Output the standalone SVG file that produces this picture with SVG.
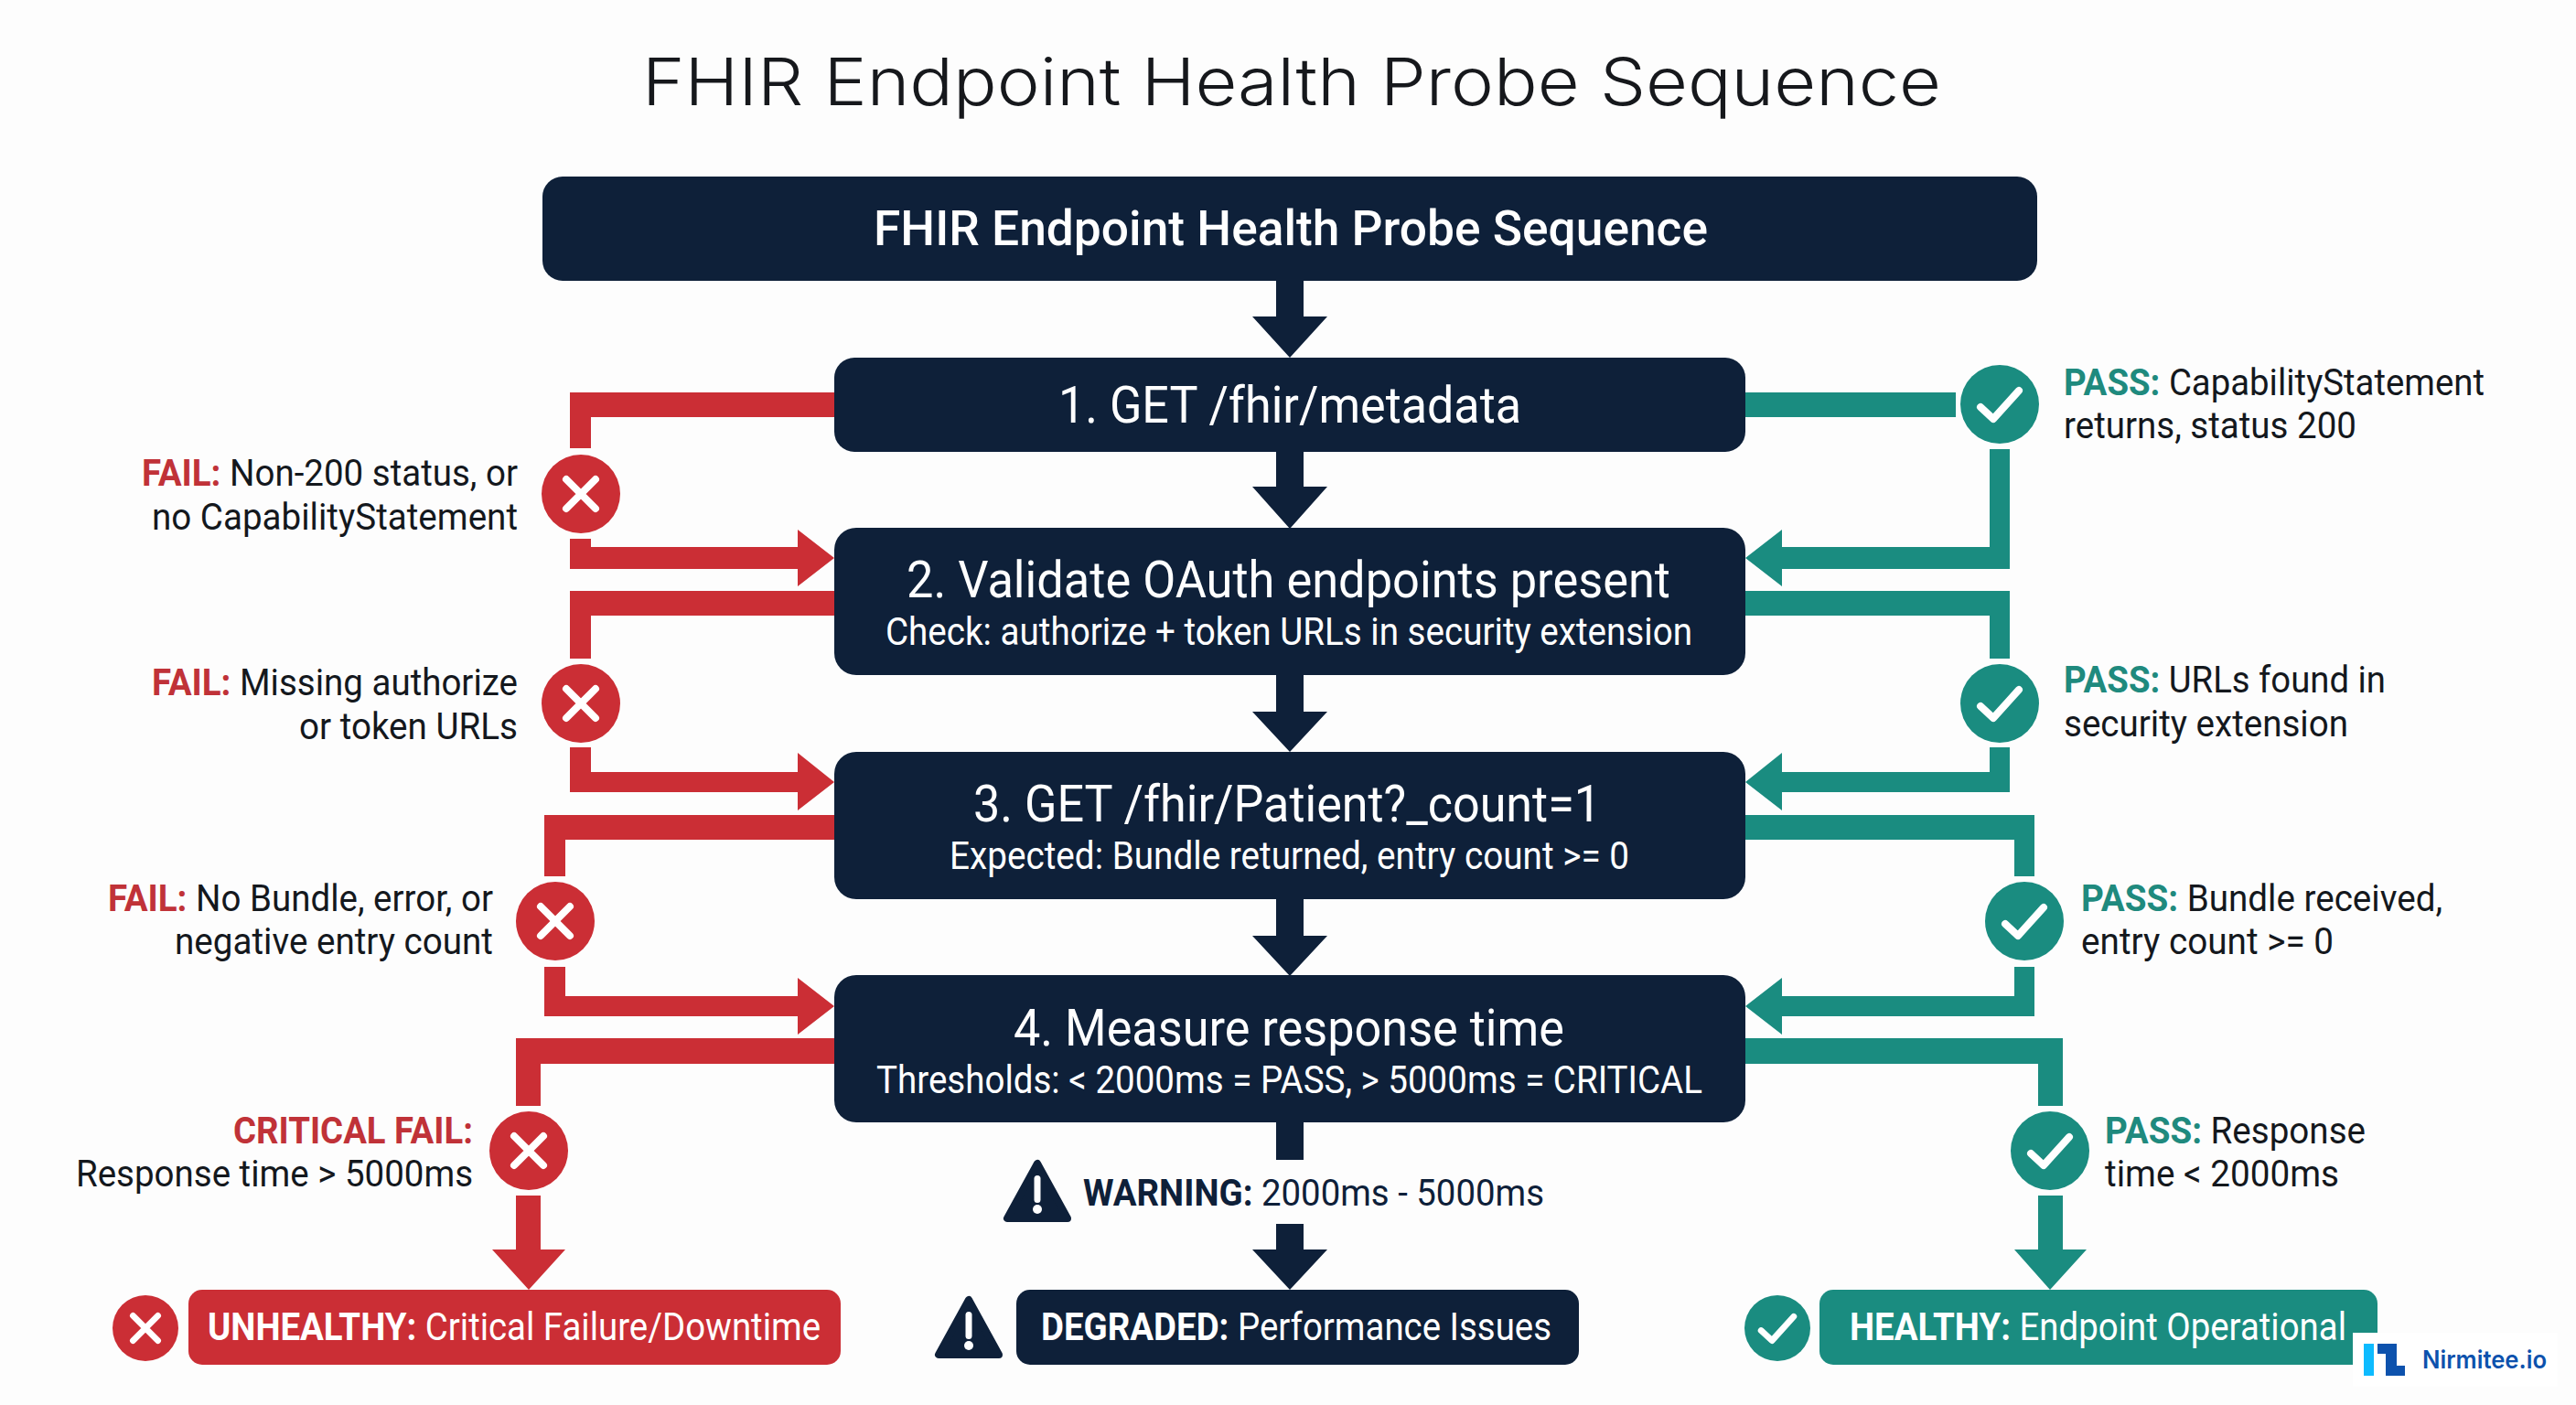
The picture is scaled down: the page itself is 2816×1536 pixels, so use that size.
<svg xmlns="http://www.w3.org/2000/svg" width="2816" height="1536" viewBox="0 0 2816 1536">
<style>
text{font-family:"Roboto","Liberation Sans",sans-serif;white-space:pre}
.title{font-family:"Inter","Open Sans",sans-serif;font-size:72px;font-weight:350;fill:#16181c}
.navy{fill:#0e2039}.red{fill:#cb2e35}.teal{fill:#1a8c80}
.h{font-size:55px;fill:#fff}.hm{font-size:54px;fill:#fff;font-weight:500}
.s{font-size:42px;fill:#fff}
.l{font-size:41px;fill:#14181d}
.fl{font-weight:700;fill:#c03238}.ps{font-weight:700;fill:#1f8a7e}
.b{font-size:42px;fill:#fff}.w{font-size:41px;fill:#0e2039}
.bd{font-weight:700}
.ic{fill:none;stroke:#fff;stroke-width:8;stroke-linecap:round;stroke-linejoin:round}
.tri{fill:#0e2039;stroke:#0e2039;stroke-width:8;stroke-linejoin:round}
</style>
<defs>
<g id="okMark"><path class="ic" d="M-21 3L-7 16L21 -15"/></g>
<g id="xMark"><path class="ic" d="M-16 -16L16 16M16 -16L-16 16"/></g>
<g id="warnTri">
<path class="tri" d="M0 -30L-33 30H33Z"/>
<rect x="-3.500" y="-17" width="7" height="30" rx="3.500" fill="#fff"/>
<circle cx="0" cy="20" r="5" fill="#fff"/>
</g>
</defs>
<rect width="2816" height="1536" fill="#fdfdfd"/>
<text class="title" x="702" y="115" textLength="1420" lengthAdjust="spacingAndGlyphs">FHIR Endpoint Health Probe Sequence</text>

<g id="connectors">
<g class="navy">
<path d="M1395 300H1425V346H1451L1410 391L1369 346H1395Z"/>
<path d="M1395 485H1425V532H1451L1410 578L1369 532H1395Z"/>
<path d="M1395 730H1425V778H1451L1410 822L1369 778H1395Z"/>
<path d="M1395 975H1425V1023H1451L1410 1067L1369 1023H1395Z"/>
<path d="M1395 1220H1425V1268H1395Z"/>
<path d="M1395 1338H1425V1366H1451L1410 1410L1369 1366H1395Z"/>
</g>
<g class="red">
<path d="M912 429H623V490H646V456H912Z"/>
<path d="M623 589V622H872V641L912 610L872 579V598H646V589Z"/>
<path d="M912 646H623V720H646V673H912Z"/>
<path d="M623 817V866H872V886L912 855L872 823V844H646V817Z"/>
<path d="M912 891H595V958H618V918H912Z"/>
<path d="M595 1057V1111H872V1131L912 1100L872 1069V1089H618V1057Z"/>
<path d="M912 1135H564V1209H591V1163H912Z"/>
<path d="M564 1307V1366H538L578 1410L618 1366H591V1307Z"/>
</g>
<g class="teal">
<path d="M1908 429H2138V456H1908Z"/>
<path d="M2197 491V622H1948V641L1908 610L1948 579V598H2175V491Z"/>
<path d="M1908 646H2197V720H2175V673H1908Z"/>
<path d="M2197 817V866H1948V886L1908 855L1948 823V844H2175V817Z"/>
<path d="M1908 891H2224V958H2202V918H1908Z"/>
<path d="M2224 1057V1111H1948V1131L1908 1100L1948 1069V1089H2202V1057Z"/>
<path d="M1908 1135H2255V1209H2228V1163H1908Z"/>
<path d="M2228 1307V1366H2202L2241 1410L2281 1366H2255V1307Z"/>
</g>
</g>

<g id="header"><rect class="navy" x="593" y="193" width="1634" height="114" rx="22"/>
<text class="hm" x="955" y="268" textLength="912" lengthAdjust="spacingAndGlyphs">FHIR Endpoint Health Probe Sequence</text></g>
<g id="step1"><rect class="navy" x="912" y="391" width="996" height="103" rx="22"/>
<text class="h" x="1157" y="462" textLength="506" lengthAdjust="spacingAndGlyphs">1. GET /fhir/metadata</text></g>
<g id="step2"><rect class="navy" x="912" y="577" width="996" height="161" rx="24"/>
<text class="h" x="991" y="653" textLength="835" lengthAdjust="spacingAndGlyphs">2. Validate OAuth endpoints present</text>
<text class="s" x="968" y="705" textLength="882" lengthAdjust="spacingAndGlyphs">Check: authorize + token URLs in security extension</text></g>
<g id="step3"><rect class="navy" x="912" y="822" width="996" height="161" rx="24"/>
<text class="h" x="1064" y="898" textLength="686" lengthAdjust="spacingAndGlyphs">3. GET /fhir/Patient?_count=1</text>
<text class="s" x="1038" y="950" textLength="743" lengthAdjust="spacingAndGlyphs">Expected: Bundle returned, entry count &gt;= 0</text></g>
<g id="step4"><rect class="navy" x="912" y="1066" width="996" height="161" rx="24"/>
<text class="h" x="1108" y="1143" textLength="602" lengthAdjust="spacingAndGlyphs">4. Measure response time</text>
<text class="s" x="958" y="1195" textLength="903" lengthAdjust="spacingAndGlyphs">Thresholds: &lt; 2000ms = PASS, &gt; 5000ms = CRITICAL</text></g>

<g id="fail1"><circle class="red" cx="635" cy="540" r="43"/><use href="#xMark" x="635" y="540"/>
<text class="l" x="155" y="531" textLength="411" lengthAdjust="spacingAndGlyphs"><tspan class="fl">FAIL:</tspan> Non-200 status, or</text>
<text class="l" x="166" y="579" textLength="400" lengthAdjust="spacingAndGlyphs">no CapabilityStatement</text></g>
<g id="fail2"><circle class="red" cx="635" cy="769" r="43"/><use href="#xMark" x="635" y="769"/>
<text class="l" x="166" y="760" textLength="400" lengthAdjust="spacingAndGlyphs"><tspan class="fl">FAIL:</tspan> Missing authorize</text>
<text class="l" x="327" y="808" textLength="239" lengthAdjust="spacingAndGlyphs">or token URLs</text></g>
<g id="fail3"><circle class="red" cx="607" cy="1007" r="43"/><use href="#xMark" x="607" y="1007"/>
<text class="l" x="118" y="996" textLength="421" lengthAdjust="spacingAndGlyphs"><tspan class="fl">FAIL:</tspan> No Bundle, error, or</text>
<text class="l" x="191" y="1043" textLength="348" lengthAdjust="spacingAndGlyphs">negative entry count</text></g>
<g id="fail4"><circle class="red" cx="578" cy="1258" r="43"/><use href="#xMark" x="578" y="1258"/>
<text class="l fl" x="255" y="1250" textLength="262" lengthAdjust="spacingAndGlyphs">CRITICAL FAIL:</text>
<text class="l" x="83" y="1297" textLength="434" lengthAdjust="spacingAndGlyphs">Response time &gt; 5000ms</text></g>

<g id="pass1"><circle class="teal" cx="2186" cy="442" r="43"/><use href="#okMark" x="2186" y="442"/>
<text class="l" x="2256" y="432" textLength="460" lengthAdjust="spacingAndGlyphs"><tspan class="ps">PASS:</tspan> CapabilityStatement</text>
<text class="l" x="2256" y="479" textLength="320" lengthAdjust="spacingAndGlyphs">returns, status 200</text></g>
<g id="pass2"><circle class="teal" cx="2186" cy="769" r="43"/><use href="#okMark" x="2186" y="769"/>
<text class="l" x="2256" y="757" textLength="352" lengthAdjust="spacingAndGlyphs"><tspan class="ps">PASS:</tspan> URLs found in</text>
<text class="l" x="2256" y="805" textLength="311" lengthAdjust="spacingAndGlyphs">security extension</text></g>
<g id="pass3"><circle class="teal" cx="2213" cy="1007" r="43"/><use href="#okMark" x="2213" y="1007"/>
<text class="l" x="2275" y="996" textLength="395" lengthAdjust="spacingAndGlyphs"><tspan class="ps">PASS:</tspan> Bundle received,</text>
<text class="l" x="2275" y="1043" textLength="276" lengthAdjust="spacingAndGlyphs">entry count &gt;= 0</text></g>
<g id="pass4"><circle class="teal" cx="2241" cy="1258" r="43"/><use href="#okMark" x="2241" y="1258"/>
<text class="l" x="2301" y="1250" textLength="285" lengthAdjust="spacingAndGlyphs"><tspan class="ps">PASS:</tspan> Response</text>
<text class="l" x="2301" y="1297" textLength="256" lengthAdjust="spacingAndGlyphs">time &lt; 2000ms</text></g>

<g id="warning"><use href="#warnTri" x="1134" y="1302"/>
<text class="w" x="1184" y="1318" textLength="504" lengthAdjust="spacingAndGlyphs"><tspan class="bd">WARNING:</tspan> 2000ms - 5000ms</text></g>

<g id="unhealthy"><circle class="red" cx="159" cy="1452" r="36"/><use href="#xMark" transform="translate(159 1452) scale(.85)"/>
<rect class="red" x="206" y="1410" width="713" height="82" rx="15"/>
<text class="b" x="227" y="1465" textLength="670" lengthAdjust="spacingAndGlyphs"><tspan class="bd">UNHEALTHY:</tspan> Critical Failure/Downtime</text></g>
<g id="degraded"><use href="#warnTri" x="1059" y="1451"/>
<rect class="navy" x="1111" y="1410" width="615" height="82" rx="15"/>
<text class="b" x="1138" y="1465" textLength="558" lengthAdjust="spacingAndGlyphs"><tspan class="bd">DEGRADED:</tspan> Performance Issues</text></g>
<g id="healthy"><circle class="teal" cx="1943" cy="1452" r="36"/><use href="#okMark" transform="translate(1943 1452) scale(.85)"/>
<rect class="teal" x="1989" y="1410" width="610" height="82" rx="15"/>
<text class="b" x="2022" y="1465" textLength="543" lengthAdjust="spacingAndGlyphs"><tspan class="bd">HEALTHY:</tspan> Endpoint Operational</text></g>

<g id="logo"><rect x="2572" y="1457" width="224" height="59" fill="#fff"/>
<rect x="2584" y="1469" width="11" height="35" fill="#0dbbff"/>
<path d="M2599 1469H2620V1493H2629V1504H2608V1480H2599Z" fill="#0d52ad"/>
<text x="2648" y="1496" textLength="136" lengthAdjust="spacingAndGlyphs" style="font-family:Inter,sans-serif;font-size:27px;font-weight:600;fill:#0d52ad">Nirmitee.io</text></g>
</svg>
